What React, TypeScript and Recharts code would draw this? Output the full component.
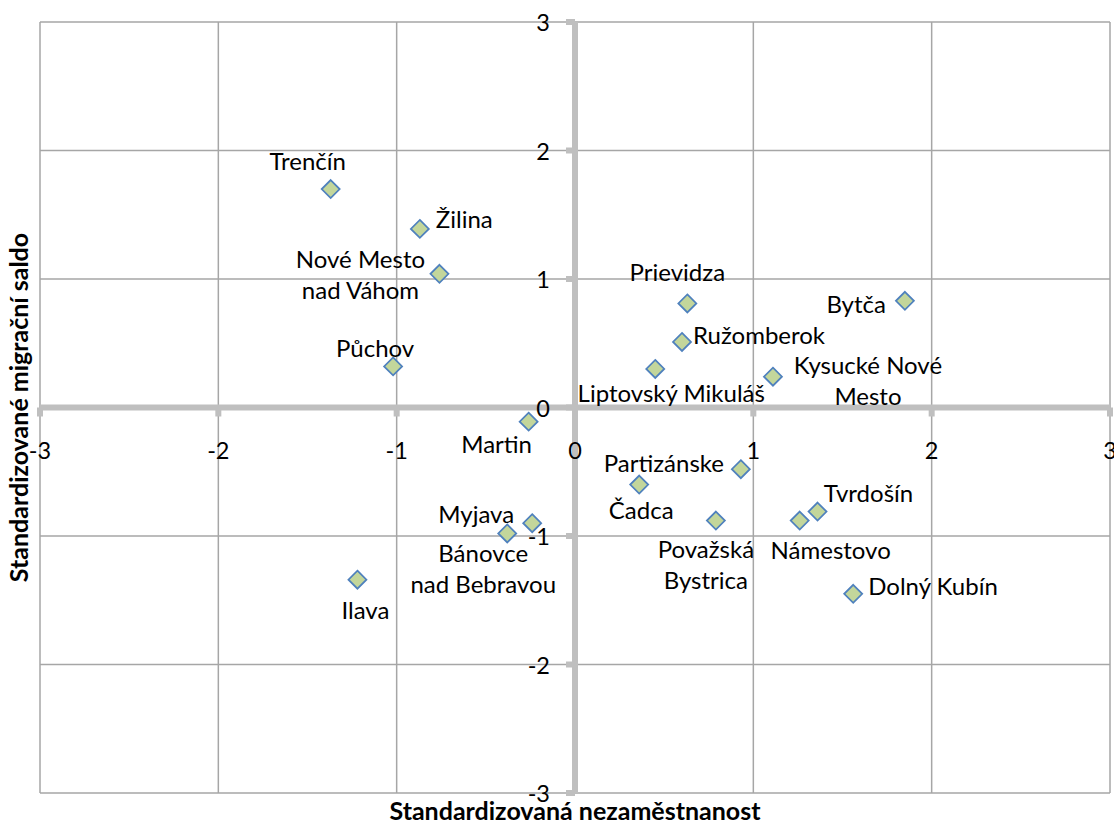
import React from 'react';
import {
  ScatterChart,
  Scatter,
  XAxis,
  YAxis,
  ReferenceLine,
  ReferenceDot,
  Label,
} from 'recharts';

// districts (labels with manual line breaks like in the source chart)
const districts = [
  'Trenčín',
  'Žilina',
  'Nové Mesto\nnad Váhom',
  'Půchov',
  'Martin',
  'Myjava',
  'Bánovce\nnad Bebravou',
  'Ilava',
  'Prievidza',
  'Ružomberok',
  'Liptovský Mikuláš',
  'Kysucké Nové\nMesto',
  'Bytča',
  'Partizánske',
  'Čadca',
  'Považská\nBystrica',
  'Námestovo',
  'Tvrdošín',
  'Dolný Kubín',
];

// standardized unemployment (x)
const unemployment = [
  -1.37, -0.87, -0.76, -1.02, -0.26, -0.24, -0.38, -1.22, 0.63, 0.6, 0.45, 1.11, 1.85, 0.93, 0.36, 0.79,
  1.26, 1.36, 1.56,
];

// standardized migration balance (y)
const migration = [
  1.7, 1.39, 1.04, 0.32, -0.11, -0.9, -0.98, -1.34, 0.81, 0.51, 0.3, 0.24, 0.83, -0.48, -0.6, -0.88, -0.88,
  -0.81, -1.45,
];

const xTicks = [-3, -2, -1, 0, 1, 2, 3];
const yTicks = [-3, -2, -1, 0, 1, 2, 3];

// where each data label sits relative to its marker
const labelOffsets: { dx: number; dy: number; anchor: 'start' | 'middle' | 'end' }[] = [
  { dx: -23, dy: -29, anchor: 'middle' },
  { dx: 16, dy: -11, anchor: 'start' },
  { dx: -79, dy: -16, anchor: 'middle' },
  { dx: -18, dy: -19, anchor: 'middle' },
  { dx: -32, dy: 21, anchor: 'middle' },
  { dx: -56, dy: -10, anchor: 'middle' },
  { dx: -24, dy: 19, anchor: 'middle' },
  { dx: 8, dy: 29, anchor: 'middle' },
  { dx: -10, dy: -32, anchor: 'middle' },
  { dx: 11, dy: -8, anchor: 'start' },
  { dx: 16, dy: 23, anchor: 'middle' },
  { dx: 95, dy: -13, anchor: 'middle' },
  { dx: -19, dy: 2, anchor: 'end' },
  { dx: -77, dy: -7, anchor: 'middle' },
  { dx: 2, dy: 24, anchor: 'middle' },
  { dx: -10, dy: 27, anchor: 'middle' },
  { dx: 31, dy: 28, anchor: 'middle' },
  { dx: 51, dy: -20, anchor: 'middle' },
  { dx: 15, dy: -9, anchor: 'start' },
];

const FONT = 'Lato, "Noto Sans", sans-serif';
const AXIS_GREY = '#BFBFBF';
const GRID_GREY = '#A6A6A6';

const data = districts.map((name, i) => ({ name, x: unemployment[i], y: migration[i], i }));

const DistrictMarker = (props: any) => {
  const { cx, cy, payload } = props;
  const off = labelOffsets[payload.i];
  const lines = String(payload.name).split('\n');
  const d = 9;
  return (
    <g>
      <path
        d={`M${cx},${cy - d}L${cx + d},${cy}L${cx},${cy + d}L${cx - d},${cy}Z`}
        fill="#C3D69B"
        stroke="#4F81BD"
        strokeWidth={1.75}
      />
      <text
        x={cx + off.dx}
        y={cy + off.dy}
        textAnchor={off.anchor}
        dominantBaseline="central"
        fontFamily={FONT}
        fontSize={24}
        fill="#000"
      >
        {lines.map((line, k) => (
          <tspan key={k} x={cx + off.dx} dy={k === 0 ? 0 : 31}>
            {line}
          </tspan>
        ))}
      </text>
    </g>
  );
};

export default function App() {
  return (
    <div style={{ position: 'absolute', left: 0, top: 0, background: '#fff' }}>
      <ScatterChart width={1114} height={825} margin={{ top: 22, right: 4, bottom: 0, left: 0 }}>
        <XAxis
          type="number"
          dataKey="x"
          domain={[-3, 3]}
          ticks={xTicks}
          height={32}
          tick={false}
          tickLine={false}
          axisLine={false}
        >
          <Label
            content={({ viewBox }: any) => (
              <text
                x={viewBox.x + viewBox.width / 2}
                y={viewBox.y + 17}
                textAnchor="middle"
                dominantBaseline="central"
                fontFamily={FONT}
                fontWeight="bold"
                fontSize={25}
                fill="#000"
              >
                Standardizovaná nezaměstnanost
              </text>
            )}
          />
        </XAxis>
        <YAxis
          type="number"
          dataKey="y"
          domain={[-3, 3]}
          ticks={yTicks}
          width={40}
          tick={false}
          tickLine={false}
          axisLine={false}
        >
          <Label
            content={({ viewBox }: any) => {
              const x = viewBox.x + viewBox.width - 22;
              const y = viewBox.y + viewBox.height / 2;
              return (
                <text
                  x={x}
                  y={y}
                  transform={`rotate(-90, ${x}, ${y})`}
                  textAnchor="middle"
                  dominantBaseline="central"
                  fontFamily={FONT}
                  fontWeight="bold"
                  fontSize={25}
                  fill="#000"
                >
                  Standardizované migrační saldo
                </text>
              );
            }}
          />
        </YAxis>

        {/* grid */}
        {xTicks.map((v) => (
          <ReferenceLine key={`gx-${v}`} x={v} stroke={GRID_GREY} strokeWidth={1.5} />
        ))}
        {yTicks.map((v) => (
          <ReferenceLine key={`gy-${v}`} y={v} stroke={GRID_GREY} strokeWidth={1.5} />
        ))}

        {/* axes crossing at zero */}
        <ReferenceLine y={0} stroke={AXIS_GREY} strokeWidth={6} />
        <ReferenceLine x={0} stroke={AXIS_GREY} strokeWidth={6} />

        {xTicks.map((v) => (
          <ReferenceDot
            key={`xt-${v}`}
            x={v}
            y={0}
            r={0}
            shape={(p: any) => (
              <g>
                <line x1={p.cx} y1={p.cy} x2={p.cx} y2={p.cy + 9} stroke={AXIS_GREY} strokeWidth={6} />
                <text
                  x={p.cx}
                  y={p.cy + 42}
                  textAnchor="middle"
                  dominantBaseline="central"
                  fontFamily={FONT}
                  fontSize={23.5}
                  fill="#000"
                >
                  {v}
                </text>
              </g>
            )}
          />
        ))}
        {yTicks.map((v) => (
          <ReferenceDot
            key={`yt-${v}`}
            x={0}
            y={v}
            r={0}
            shape={(p: any) => (
              <g>
                <line x1={p.cx - 9} y1={p.cy} x2={p.cx} y2={p.cy} stroke={AXIS_GREY} strokeWidth={6} />
                <text
                  x={p.cx - 25}
                  y={p.cy}
                  textAnchor="end"
                  dominantBaseline="central"
                  fontFamily={FONT}
                  fontSize={23.5}
                  fill="#000"
                >
                  {v}
                </text>
              </g>
            )}
          />
        ))}

        <Scatter data={data} shape={DistrictMarker} isAnimationActive={false} />
      </ScatterChart>
    </div>
  );
}
